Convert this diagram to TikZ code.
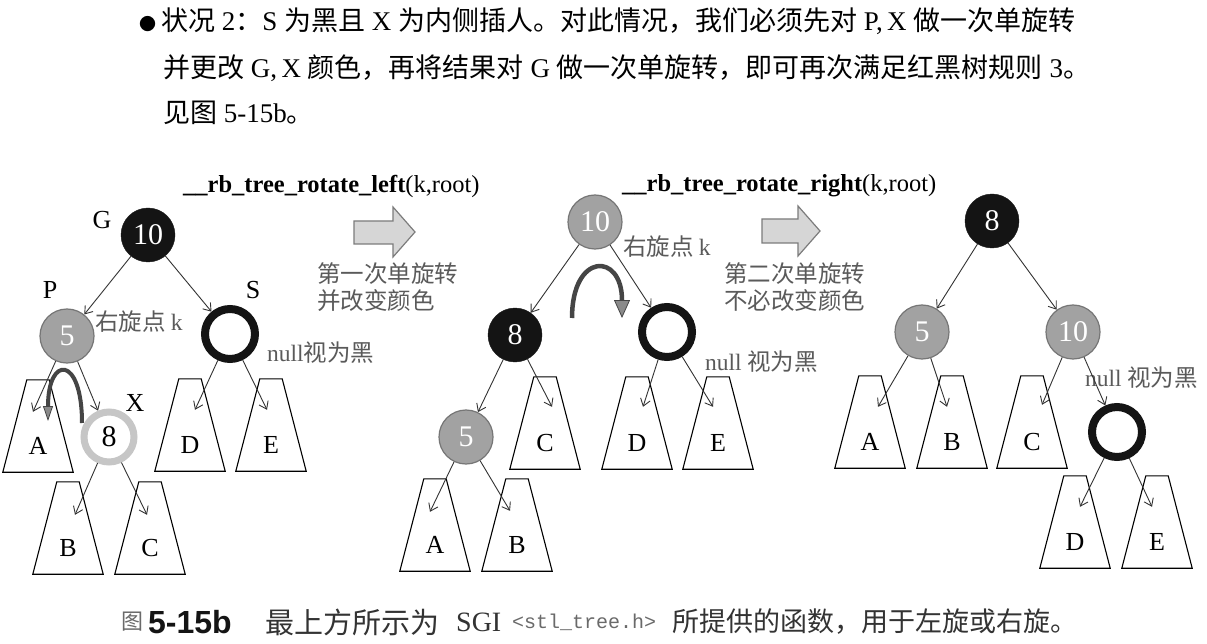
\documentclass[tikz,border=0pt]{standalone}
\usepackage{fontspec}
\setmainfont{Liberation Serif}
\setsansfont{Liberation Sans}
\setmonofont{Liberation Mono}
\newfontfamily\cjk{Noto Sans CJK SC}
\usetikzlibrary{arrows.meta,calc}
\definecolor{nblack}{HTML}{141414}
\definecolor{ngray}{HTML}{A2A2A2}
\definecolor{ngrayd}{HTML}{767676}
\definecolor{xring}{HTML}{C6C6C6}
\definecolor{edgec}{HTML}{333333}
\definecolor{notec}{HTML}{5A5A5A}
\definecolor{rotc}{HTML}{454545}
\definecolor{rotf}{HTML}{8A8A8A}
\definecolor{arrfill}{HTML}{D6D6D6}
\definecolor{arrdraw}{HTML}{7C7C7C}
\definecolor{capc}{HTML}{333333}
\definecolor{monoc}{HTML}{6A6A6A}
% a subtree: an invisible box that carries the name, outlined as a trapezoid
\newcommand{\subtree}[4]{%
  \node[subbox] (#1) at (#2,#3) {};
  \draw[subline] (#1.south west) -- (#1.south east) -- ([xshift=-24pt]#1.north east)
    -- ([xshift=24pt]#1.north west) -- cycle;
  \node[sublab] (#1l) at ([yshift=-20pt]#1.center) {#4};}
\begin{document}
\begin{tikzpicture}[x=1pt,y=-1pt,
  body/.style={font=\fontsize{27}{32}\selectfont, inner sep=0pt, anchor=west},
  fn/.style={font=\fontsize{24.5}{28}\selectfont, inner sep=0pt, anchor=west},
  note/.style={font=\cjk\fontsize{23.5}{28}\selectfont, text=notec, inner sep=0pt, anchor=west},
  captext/.style={font=\cjk\fontsize{27}{32}\selectfont, text=capc, inner sep=0pt, anchor=west},
  tag/.style={font=\fontsize{26}{30}\selectfont, inner sep=0pt},
  bnode/.style={circle, fill=nblack, draw=nblack, minimum size=54pt, inner sep=0pt, text=white, font=\fontsize{30}{30}\selectfont},
  rnode/.style={circle, fill=ngray, draw=ngrayd, line width=1.2pt, minimum size=54pt, inner sep=0pt, text=white, font=\fontsize{30}{30}\selectfont},
  nnode/.style={circle, fill=white, draw=nblack, line width=8pt, minimum size=50pt, inner sep=0pt},
  xnode/.style={circle, fill=white, draw=xring, line width=7pt, minimum size=50pt, inner sep=0pt, text=black, font=\fontsize{30}{30}\selectfont},
  subbox/.style={rectangle, minimum width=70pt, minimum height=92pt, inner sep=0pt},
  subline/.style={draw=black, line width=1.1pt, line join=miter},
  sublab/.style={font=\fontsize{26}{30}\selectfont, inner sep=0pt},
  edge/.style={draw=edgec, line width=0.9pt, -{Straight Barb[length=7pt,width=10pt]}},
  rot/.style={draw=rotc, line width=4pt},
  bigarrow/.style={fill=arrfill, draw=arrdraw, line width=1.2pt, line join=miter}
]
\fill[white] (0,0) rectangle (1207,644);
\useasboundingbox (0,0) rectangle (1207,644);

% ---- paragraph text ----
\node[body] (p1) at (139,21) {{\cjk\fontsize{17}{17}\selectfont ●}\hspace{5pt}{\cjk 状况} 2{\cjk ：}S {\cjk 为黑且} X {\cjk 为内侧插人。对此情况，我们必须先对} P,\,X {\cjk 做一次单旋转}};
\node[body] (p2) at (163,68) {{\cjk 并更改} G,\,X {\cjk 颜色，再将结果对} G {\cjk 做一次单旋转，即可再次满足红黑树规则} 3{\cjk 。}};
\node[body] (p3) at (163,113) {{\cjk 见图} 5-15b{\cjk 。}};

% ---- function names ----
\node[fn] (f1) at (183,186) {\textbf{\_\_rb\_tree\_rotate\_left}(k,root)};
\node[fn] (f2) at (622,186) {\textbf{\_\_rb\_tree\_rotate\_right}(k,root)};

% ---- block arrows between the stages ----
\draw[bigarrow] (354,221) -- (393,221) -- (393,207) -- (415,232) -- (393,257) -- (393,244) -- (354,244) -- cycle;
\draw[bigarrow] (762,219) -- (798,219) -- (798,206) -- (820,231) -- (798,256) -- (798,243) -- (762,243) -- cycle;
\node[note] (s1a) at (317,274) {第一次单旋转};
\node[note] (s1b) at (317,301) {并改变颜色};
\node[note] (s2a) at (724,274) {第二次单旋转};
\node[note] (s2b) at (724,301) {不必改变颜色};

% ================= stage 1 =================
\node[bnode] (aG) at (148,235) {10};
\node[rnode] (aP) at (67,336) {5};
\node[nnode] (aS) at (230,334) {};
\node[xnode] (aX) at (109,437) {8};
\node[tag] (aGl) at (102,220) {G};
\node[tag] (aPl) at (50,290) {P};
\node[tag] (aSl) at (253,290) {S};
\node[tag] (aXl) at (135,403) {X};
\node[note] (ak) at (95,322) {右旋点 {\rmfamily k}};
\node[note] (anull) at (267,353) {{\rmfamily null}视为黑};

\subtree{aA}{38}{426}{A}
\subtree{aD}{190}{425}{D}
\subtree{aE}{271}{425}{E}
\subtree{aB}{68}{528}{B}
\subtree{aC}{150}{528}{C}

\draw[edge] (aG) -- (aP);
\draw[edge] (aG) -- (aS);
\draw[edge] (aP) -- ($(aA.north)+(-5,32)$);
\draw[edge] (aP) -- (aX);
\draw[edge] (aS) -- ($(aD.north)+(5,31)$);
\draw[edge] (aS) -- ($(aE.north)+(-4,31)$);
\draw[edge] (aX) -- ($(aB.north)+(7,33)$);
\draw[edge] (aX) -- ($(aC.north)+(-3,33)$);
\draw[rot, -{Triangle[length=15pt,width=10pt,fill=rotf,line width=0.8pt]}]
  (82,423) .. controls (82,355) and (48,355) .. (48,421);

% ================= stage 2 =================
\node[rnode] (b10) at (595,222) {10};
\node[bnode] (b8) at (515,335) {8};
\node[nnode] (bS) at (667,332) {};
\node[rnode] (b5) at (466,437) {5};
\node[note] (bk) at (623,247) {右旋点 {\rmfamily k}};
\node[note] (bnull) at (705,362) {{\rmfamily null} 视为黑};

\subtree{bC}{545}{423}{C}
\subtree{bD}{637}{423}{D}
\subtree{bE}{718}{423}{E}
\subtree{bA}{435}{525}{A}
\subtree{bB}{517}{525}{B}

\draw[edge] (b10) -- (b8);
\draw[edge] (b10) -- (bS);
\draw[edge] (b8) -- (b5);
\draw[edge] (b8) -- ($(bC.north)+(7,30)$);
\draw[edge] (bS) -- ($(bD.north)+(6,30)$);
\draw[edge] (bS) -- ($(bE.north)+(-5,30)$);
\draw[edge] (b5) -- ($(bA.north)+(-5,33)$);
\draw[edge] (b5) -- ($(bB.north)+(-7,32)$);
\draw[rot, line width=4.5pt, -{Triangle[length=18pt,width=16pt,fill=rotf,line width=0.8pt]}]
  (572,318) .. controls (572,252) and (622,252) .. (622,318);

% ================= stage 3 =================
\node[bnode] (c8) at (992,221) {8};
\node[rnode] (c5) at (922,332) {5};
\node[rnode] (c10) at (1073,332) {10};
\node[nnode] (cS) at (1117,432) {};
\node[note] (cnull) at (1085,378) {{\rmfamily null} 视为黑};

\subtree{cA}{870}{422}{A}
\subtree{cB}{952}{422}{B}
\subtree{cC}{1032}{422}{C}
\subtree{cD}{1075}{522}{D}
\subtree{cE}{1157}{522}{E}

\draw[edge] (c8) -- (c5);
\draw[edge] (c8) -- (c10);
\draw[edge] (c5) -- ($(cA.north)+(8,31)$);
\draw[edge] (c5) -- ($(cB.north)+(-5,31)$);
\draw[edge] (c10) -- ($(cC.north)+(10,29)$);
\draw[edge] (c10) -- (cS);
\draw[edge] (cS) -- ($(cD.north)+(5,31)$);
\draw[edge] (cS) -- ($(cE.north)+(-5,31)$);

% ---- caption ----
\node[captext, font=\cjk\fontsize{22}{26}\selectfont, text=monoc] (cap1) at (121,622) {图};
\node[captext, font=\sffamily\bfseries\fontsize{32}{36}\selectfont, text=nblack] (cap2) at (148,622) {5-15b};
\node[captext, font=\cjk\fontsize{29}{34}\selectfont] (cap3) at (265,622) {最上方所示为};
\node[captext, font=\rmfamily\fontsize{28}{32}\selectfont] (cap3b) at (456,622) {SGI};
\node[captext, font=\ttfamily\fontsize{20}{22}\selectfont, text=monoc] (cap4) at (512,622) {<stl\_tree.h>};
\node[captext] (cap5) at (672,622) {所提供的函数，用于左旋或右旋。};
\end{tikzpicture}
\end{document}
